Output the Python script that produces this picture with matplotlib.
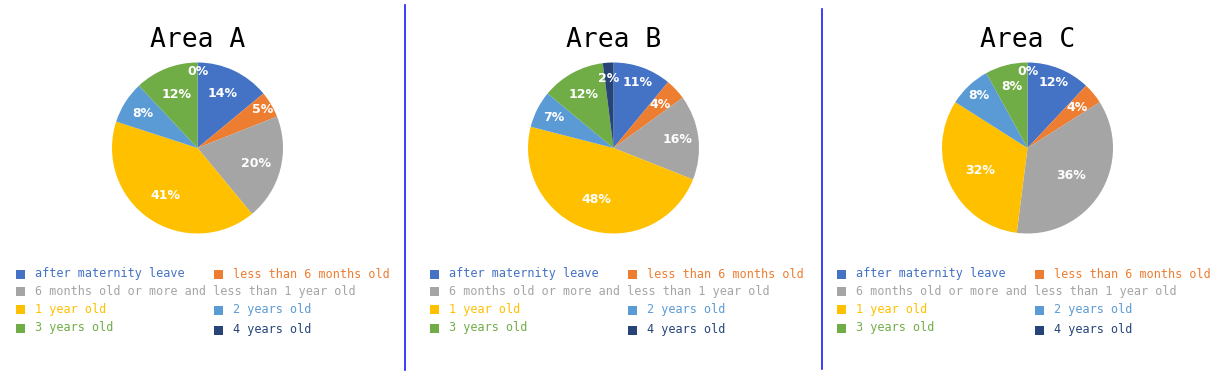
import matplotlib
matplotlib.use("Agg")
import matplotlib.pyplot as plt
from matplotlib.patches import Rectangle
import numpy as np

# ---- data ----
categories = ["after maternity leave", "less than 6 months old",
              "6 months old or more and less than 1 year old",
              "1 year old", "2 years old", "3 years old", "4 years old"]
area_titles = ["Area A", "Area B", "Area C"]
area_a = [14, 5, 20, 41, 8, 12, 0]
area_b = [11, 4, 16, 48, 7, 12, 2]
area_c = [12, 4, 36, 32, 8, 8, 0]
areas = [area_a, area_b, area_c]

# ---- style ----
colors = ["#4472C4", "#ED7D31", "#A5A5A5", "#FFC000", "#5B9BD5", "#70AD47", "#264478"]
label_dist = [
    [0.70, 0.88, 0.71, 0.67, 0.76, 0.67, 0.89],
    [0.82, 0.75, 0.76, 0.63, 0.78, 0.72, 0.82],
    [0.82, 0.75, 0.60, 0.61, 0.84, 0.74, 0.90],
]

W, H = 1227, 373
fig = plt.figure(figsize=(W / 100, H / 100), dpi=100)
fig.patch.set_facecolor("white")

# overlay axes in pixel coordinates for titles, legends, separators
ov = fig.add_axes([0, 0, 1, 1])
ov.set_xlim(0, W)
ov.set_ylim(H, 0)
ov.axis("off")

panel_offsets = [0, 414, 821]
pie_cx = [197.5, 613.5, 1027.5]
pie_cy = 148.0
pie_r = 85.5

# legend layout: (marker center x, text x, y) relative to panel
leg_pos = [(20.5, 35, 274), (218.5, 233, 274), (20.5, 35, 291),
           (20.5, 35, 309), (218.5, 233, 310), (20.5, 35, 328), (218.5, 233, 330)]

mono = "DejaVu Sans Mono"

for i, vals in enumerate(areas):
    cx = pie_cx[i]
    ax = fig.add_axes([(cx - pie_r) / W, 1 - (pie_cy + pie_r) / H,
                       2 * pie_r / W, 2 * pie_r / H])
    wedges, _ = ax.pie(vals, colors=colors, startangle=90, counterclock=False,
                       wedgeprops=dict(linewidth=0))
    ax.set_xlim(-1, 1)
    ax.set_ylim(-1, 1)
    ax.set_aspect("equal")
    ax.axis("off")
    for w, v, d in zip(wedges, vals, label_dist[i]):
        mid = np.deg2rad((w.theta1 + w.theta2) / 2)
        ax.text(d * np.cos(mid), d * np.sin(mid), f"{v}%", color="white",
                fontsize=9, fontweight="bold", ha="center", va="center",
                family="DejaVu Sans")

    off = panel_offsets[i]
    ov.text(cx, 40, area_titles[i], fontsize=19, family=mono,
            ha="center", va="center", color="black")

    for k, (mx, tx, y) in enumerate(leg_pos):
        ov.add_patch(Rectangle((off + mx - 4.5, y - 4.5), 9, 9,
                               facecolor=colors[k], edgecolor="none"))
        ov.text(off + tx, y, categories[k], fontsize=8.5, family=mono,
                color=colors[k], ha="left", va="center")

# separators
ov.plot([405, 405], [5, 370], color="#1a1aff", linewidth=1.2)
ov.plot([821.5, 821.5], [9, 369], color="#1a1aff", linewidth=1.2)

fig.savefig("out.png", dpi=100, facecolor="white")
